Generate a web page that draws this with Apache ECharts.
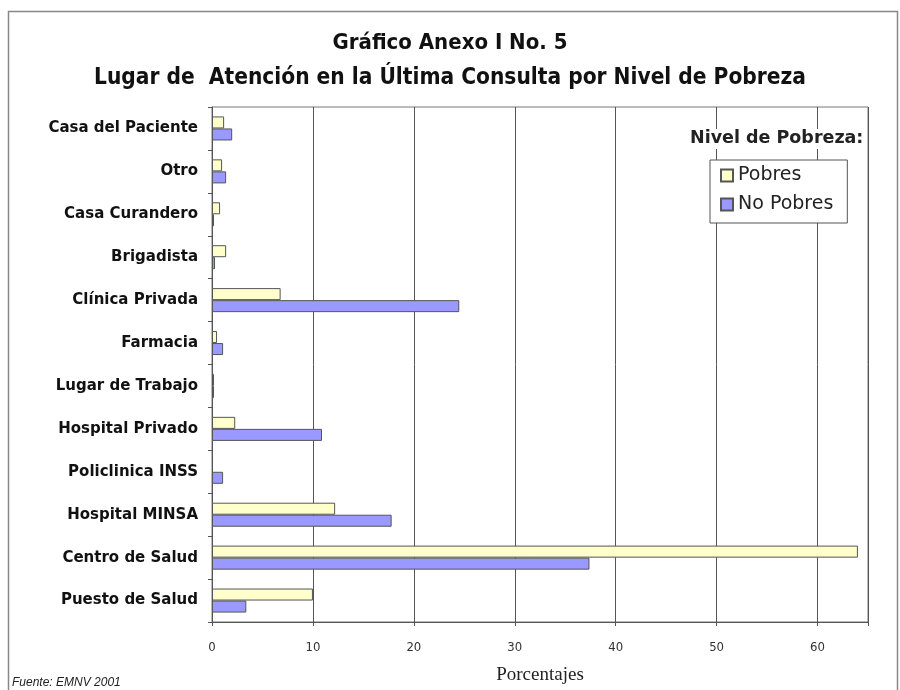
<!DOCTYPE html>
<html>
<head>
<meta charset="utf-8">
<script src="https://cdn.jsdelivr.net/npm/echarts@6/dist/echarts.min.js"></script>
<style>
html,body{margin:0;padding:0;background:#fff;}
#chart{width:900px;height:690px;}
</style>
</head>
<body>
<div id="chart"></div>
<script>
var categories = ['Casa del Paciente','Otro','Casa Curandero','Brigadista','Clínica Privada','Farmacia','Lugar de Trabajo','Hospital Privado','Policlinica INSS','Hospital MINSA','Centro de Salud','Puesto de Salud'];
var pobres =    [1.2, 1.0, 0.8, 1.4, 6.8, 0.5, 0.2, 2.3, 0.1, 12.2, 64.0, 10.0];
var noPobres =  [2.0, 1.4, 0.2, 0.3, 24.5, 1.1, 0.2, 10.9, 1.1, 17.8, 37.4, 3.4];
var xTicks = [0, 10, 20, 30, 40, 50, 60];

var chart = echarts.init(document.getElementById('chart'), null, {renderer:'canvas'});
var option = {
  backgroundColor: '#ffffff',
  animation: false,
  title: [
    {text: 'Gráfico Anexo I No. 5', left: 'center', top: 27,
     textStyle: {fontFamily: 'DejaVu Sans Condensed', fontWeight: 'bold', fontSize: 22, color: '#111'}},
    {text: 'Lugar de  Atención en la Última Consulta por Nivel de Pobreza', left: 'center', top: 62,
     textStyle: {fontFamily: 'DejaVu Sans Condensed', fontWeight: 'bold', fontSize: 22.5, color: '#111'}}
  ],
  graphic: [
    {type: 'rect', shape: {x: 8.5, y: 11.5, width: 889, height: 690}, style: {fill: 'none', stroke: '#888', lineWidth: 1.5}, z: -1},
    {type: 'rect', shape: {x: 689, y: 129, width: 177, height: 20}, style: {fill: '#fff'}, z: 9},
    {type: 'text', x: 690, y: 129, style: {text: 'Nivel de Pobreza:', font: 'bold 17.5px "DejaVu Sans"', fill: '#222'}, z: 10}
  ],
  legend: {
    orient: 'vertical', left: 710, top: 160,
    backgroundColor: '#fff', borderColor: '#555', borderWidth: 1,
    padding: [6, 14, 9, 10], itemGap: 10,
    itemWidth: 12, itemHeight: 12, icon: 'rect',
    textStyle: {fontFamily: 'DejaVu Sans', fontSize: 19, color: '#222', padding: [0,0,0,0]},
    data: ['Pobres', 'No Pobres']
  },
  grid: {left: 212, right: 32, top: 107, bottom: 67, containLabel: false,
         show: true, borderColor: '#777', borderWidth: 1},
  xAxis: {
    type: 'value', min: 0, max: 65, interval: 10,
    axisLine: {show: true, lineStyle: {color: '#555'}},
    axisTick: {show: true, length: 4, lineStyle: {color: '#555'}},
    axisLabel: {fontFamily: 'DejaVu Sans Condensed', fontSize: 13, color: '#333', margin: 19,
                formatter: function(v){ return xTicks.indexOf(v) >= 0 ? String(v) : ''; }},
    splitLine: {show: true, lineStyle: {color: '#555', width: 1}},
    name: 'Porcentajes', nameLocation: 'middle', nameGap: 44,
    nameTextStyle: {fontFamily: 'Liberation Serif', fontSize: 19, color: '#222'}
  },
  yAxis: {
    type: 'category', data: categories, inverse: true,
    axisLine: {show: true, lineStyle: {color: '#555'}},
    axisTick: {show: true, length: 4, lineStyle: {color: '#555'}},
    axisLabel: {fontFamily: 'DejaVu Sans', fontWeight: 'bold', fontSize: 15, color: '#111', margin: 14}
  },
  series: [
    {name: 'Pobres', type: 'bar', data: pobres, barGap: '0%', barCategoryGap: '44%',
     itemStyle: {color: '#ffffcc', borderColor: '#555', borderWidth: 1}},
    {name: 'No Pobres', type: 'bar', data: noPobres, barGap: '0%', barCategoryGap: '44%',
     itemStyle: {color: '#9999ff', borderColor: '#555', borderWidth: 1}}
  ]
};
chart.setOption(option);
</script>
<div style="position:absolute;left:12px;top:675px;font:italic 12px 'Liberation Sans',Arial,sans-serif;color:#222;">Fuente: EMNV 2001</div>
</body>
</html>
